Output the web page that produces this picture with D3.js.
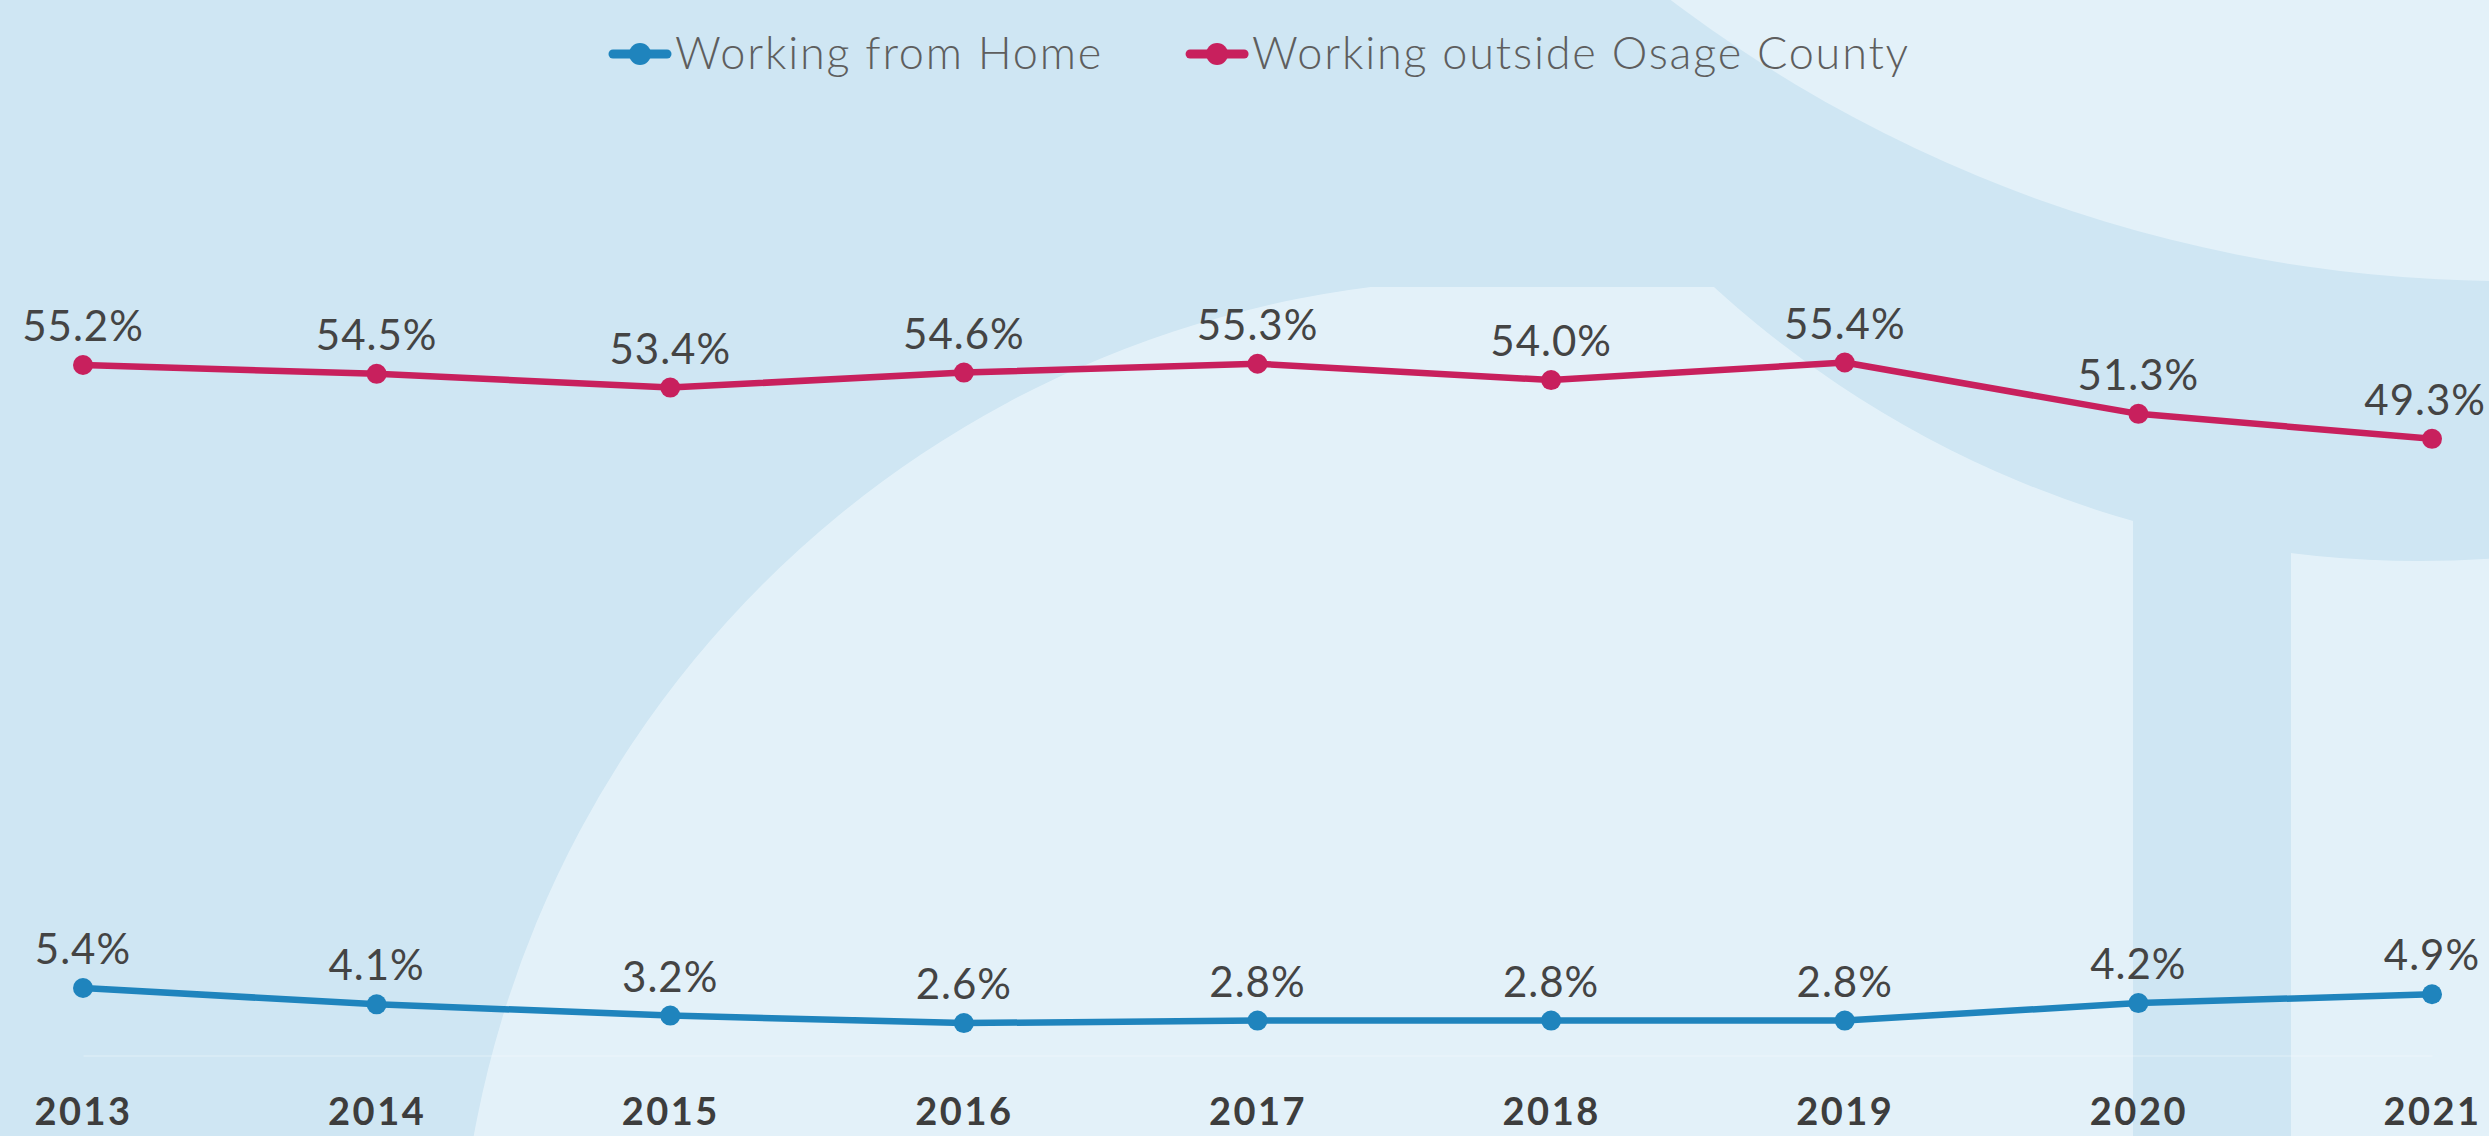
<!DOCTYPE html>
<html>
<head>
<meta charset="utf-8">
<script src="https://cdn.jsdelivr.net/npm/d3@7"></script>
<style>
  html, body { margin: 0; padding: 0; background: #cfe6f3; overflow: hidden; }
  svg { display: block; }
</style>
</head>
<body>
<svg id="chart" width="2489" height="1136"></svg>
<script>
// Commuting patterns, share of workers (%)
const years = ['2013', '2014', '2015', '2016', '2017', '2018', '2019', '2020', '2021'];
const fromHome = [5.4, 4.1, 3.2, 2.6, 2.8, 2.8, 2.8, 4.2, 4.9];
const outsideCounty = [55.2, 54.5, 53.4, 54.6, 55.3, 54.0, 55.4, 51.3, 49.3];
const seriesNames = ['Working from Home', 'Working outside Osage County'];
const seriesColors = ['#1f84bd', '#c8205d'];

const W = 2489, H = 1136;
const svg = d3.select('#chart');

// ---- decorative backdrop: large pale logo shapes ----
const bgDark = '#cfe6f3', bgLight = '#e3f1f9';
svg.append('rect').attr('width', W).attr('height', H).attr('fill', bgDark);

const defs = svg.append('defs');
const mask = defs.append('mask').attr('id', 'lightMask')
  .attr('maskUnits', 'userSpaceOnUse').attr('x', 0).attr('y', 0).attr('width', W).attr('height', H);
mask.append('rect').attr('width', W).attr('height', H).attr('fill', 'black');
mask.append('circle').attr('cx', 1500).attr('cy', 1322).attr('r', 1043).attr('fill', 'white');
mask.append('rect').attr('x', 1500).attr('y', 287).attr('width', 633).attr('height', H).attr('fill', 'white');
mask.append('rect').attr('x', 2291).attr('y', 380).attr('width', 300).attr('height', H).attr('fill', 'white');
// the ring cuts through both pale blocks
mask.append('circle').attr('cx', 2419).attr('cy', -483).attr('r', 1044).attr('fill', 'black');
// keep the pale block from rising above its flat top
mask.append('rect').attr('x', 0).attr('y', 0).attr('width', W).attr('height', 287).attr('fill', 'black');
// the vertical stem stays in the darker tone
mask.append('rect').attr('x', 2133).attr('y', 0).attr('width', 158).attr('height', H).attr('fill', 'black');

svg.append('rect').attr('width', W).attr('height', H).attr('fill', bgLight).attr('mask', 'url(#lightMask)');
svg.append('circle').attr('cx', 2506).attr('cy', -1101).attr('r', 1382).attr('fill', bgLight);

// ---- scales ----
const x = d3.scalePoint().domain(years).range([83, 2432]);
const y = d3.scaleLinear().domain([0, 60]).range([1055.6, 305]);

// ---- x axis ----
const axis = svg.append('g')
  .attr('transform', `translate(0,${y(0)})`)
  .call(d3.axisBottom(x).tickSize(0).tickPadding(0));
axis.select('.domain').attr('stroke', 'rgba(255,255,255,0.2)').attr('stroke-width', 2);
axis.selectAll('text')
  .attr('y', 69).attr('dy', 0)
  .attr('fill', '#3d3d3d')
  .style('font-family', 'Lato, "Open Sans", sans-serif')
  .style('font-weight', 700)
  .style('font-size', '38px')
  .style('letter-spacing', '2.5px');

// ---- series ----
const series = [
  { name: seriesNames[0], color: seriesColors[0], values: fromHome },
  { name: seriesNames[1], color: seriesColors[1], values: outsideCounty }
];
const line = d3.line().x((d, i) => x(years[i])).y(d => y(d));
const fmt = d3.format('.1f');

series.forEach(s => {
  const g = svg.append('g');
  g.append('path')
    .datum(s.values)
    .attr('d', line)
    .attr('fill', 'none')
    .attr('stroke', s.color)
    .attr('stroke-width', 6.5)
    .attr('stroke-linejoin', 'round')
    .attr('stroke-linecap', 'round');
  g.selectAll('circle')
    .data(s.values)
    .join('circle')
    .attr('cx', (d, i) => x(years[i]))
    .attr('cy', d => y(d))
    .attr('r', 10)
    .attr('fill', s.color);
  g.selectAll('text')
    .data(s.values)
    .join('text')
    .attr('x', (d, i) => x(years[i]))
    .attr('y', d => y(d) - 24)
    .attr('text-anchor', 'middle')
    .attr('fill', '#444')
    .style('font-family', 'Lato, "Open Sans", sans-serif')
    .style('font-weight', 400)
    .style('font-size', '42px')
    .style('letter-spacing', '1px')
    .text(d => fmt(d) + '%')
    .each(function () {
      // nudge labels that would run past the right edge back inside
      const b = this.getBBox();
      const over = b.x + b.width - (W - 3);
      if (over > 0) d3.select(this).attr('x', +this.getAttribute('x') - over);
    });
});

// ---- legend ----
const legend = svg.append('g').attr('transform', 'translate(613,54)');
let lx = 0;
series.forEach((s, i) => {
  const item = legend.append('g').attr('transform', `translate(${lx},0)`);
  item.append('line')
    .attr('x1', 0).attr('x2', 54).attr('y1', 0).attr('y2', 0)
    .attr('stroke', s.color).attr('stroke-width', 9).attr('stroke-linecap', 'round');
  item.append('circle').attr('cx', 27).attr('cy', 0).attr('r', 11).attr('fill', s.color);
  const t = item.append('text')
    .attr('x', 62).attr('y', 15)
    .attr('fill', '#5e5e5e')
    .style('font-family', 'Lato, "Open Sans", sans-serif')
    .style('font-weight', 300)
    .style('font-size', '45px')
    .style('letter-spacing', '1.8px')
    .text(s.name);
  lx += 62 + t.node().getComputedTextLength() + 87;
});
</script>
</body>
</html>
